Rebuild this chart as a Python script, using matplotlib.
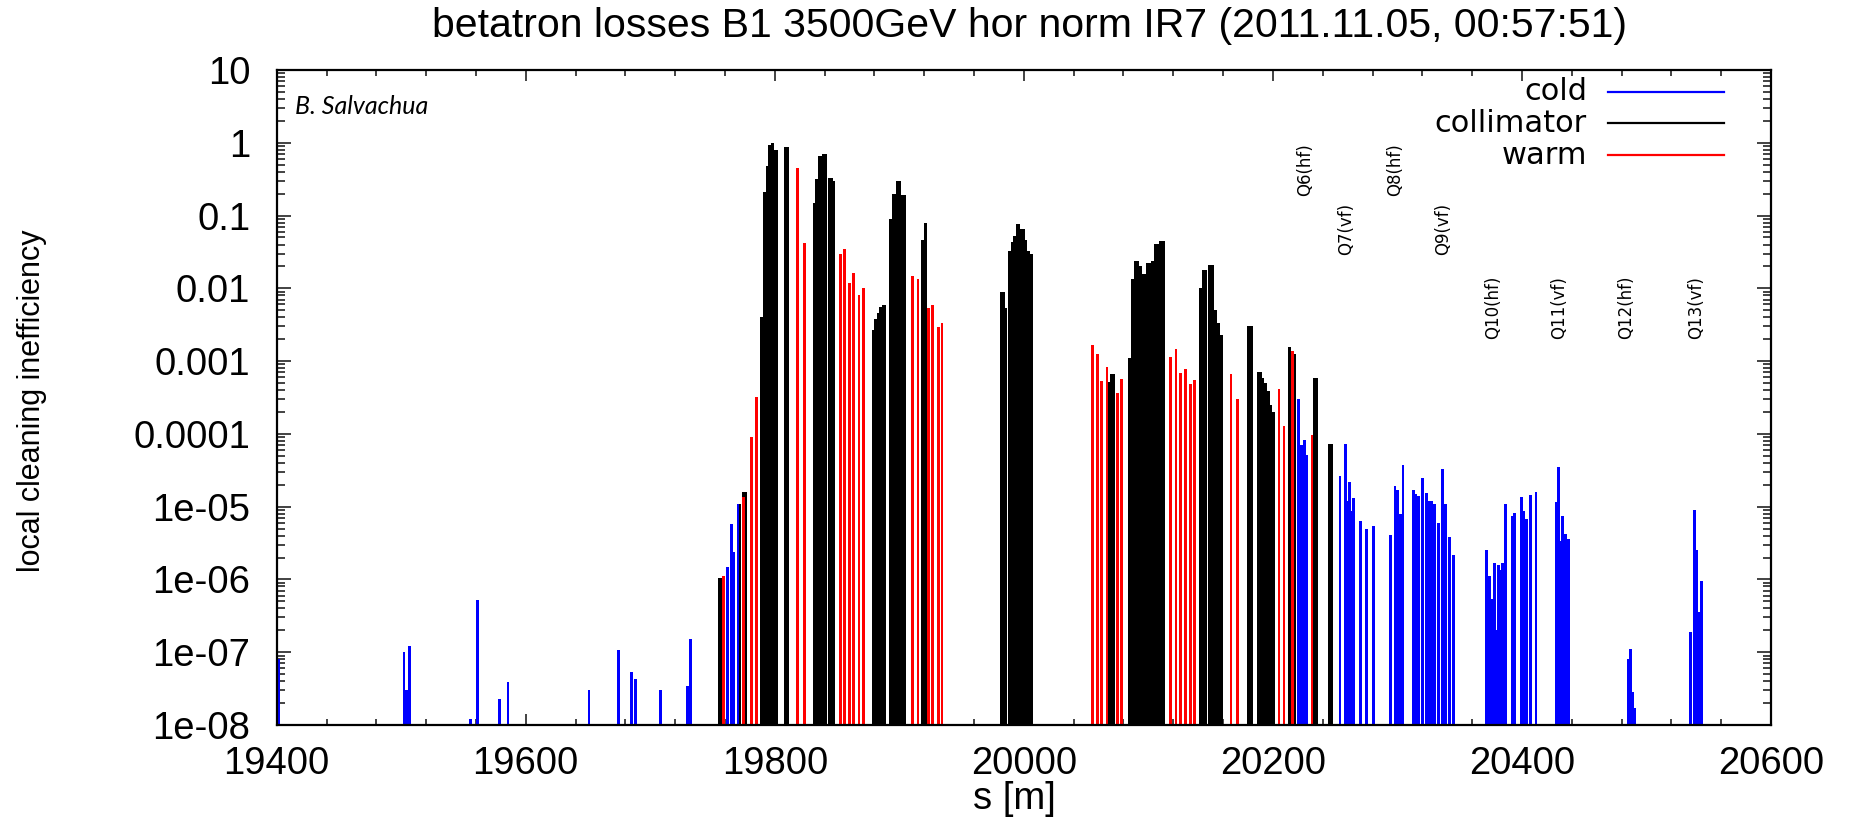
import matplotlib
matplotlib.use("Agg")
import matplotlib.pyplot as plt
import numpy as np
from matplotlib import font_manager
from matplotlib.lines import Line2D
from matplotlib.ticker import FixedLocator, LogLocator, MultipleLocator, NullFormatter

# ---------------- data ----------------
title = "betatron losses B1 3500GeV hor norm IR7 (2011.11.05, 00:57:51)"
x_label = "s [m]"
y_label = "local cleaning inefficiency"
author = "B. Salvachua"
series_names = ["cold", "collimator", "warm"]

x_ticks = [19400, 19600, 19800, 20000, 20200, 20400, 20600]
y_ticks = [10, 1, 0.1, 0.01, 0.001, 0.0001, 1e-5, 1e-6, 1e-7, 1e-8]
y_tick_labels = ["10", "1", "0.1", "0.01", "0.001", "0.0001",
                 "1e-05", "1e-06", "1e-07", "1e-08"]

cold_s = [19401.3, 19502.2, 19504.4, 19506.5, 19555.8, 19561.0, 19579.2, 19585.8,
          19650.8, 19674.5, 19685.1, 19688.4, 19708.5, 19730.1, 19732.1,
          19762.2, 19765.5, 19767.0, 19770.8,
          20220.7, 20223.0, 20225.3, 20227.4,
          20253.9, 20258.3, 20259.8, 20261.5, 20263.0, 20264.7, 20270.3, 20275.3, 20280.8,
          20294.7, 20298.0, 20300.1, 20302.2, 20304.4, 20312.7, 20314.9, 20317.1, 20320.2,
          20323.3, 20325.6, 20327.5, 20329.7, 20333.2, 20336.4, 20338.6, 20341.8, 20345.0,
          20371.7, 20373.9, 20376.6, 20378.2, 20379.8, 20381.4, 20382.5, 20384.6, 20386.7,
          20392.0, 20394.2, 20399.4, 20401.3, 20403.9, 20407.1, 20411.3,
          20427.4, 20429.6, 20430.9, 20432.8, 20435.0, 20437.3,
          20485.1, 20487.2, 20488.6, 20490.4,
          20535.2, 20538.4, 20540.6, 20542.2, 20544.0]
cold_v = [8e-8, 1.0e-7, 3e-8, 1.23e-7, 1.2e-8, 5.2e-7, 2.3e-8, 3.9e-8,
          3e-8, 1.07e-7, 5.3e-8, 4.3e-8, 3e-8, 3.4e-8, 1.5e-7,
          1.5e-6, 5.7e-6, 2.4e-6, 1.1e-5,
          3e-4, 7.1e-5, 8.2e-5, 5.1e-5,
          2.6e-5, 7.3e-5, 1.2e-5, 2.2e-5, 8.7e-6, 1.3e-5, 6.3e-6, 5.0e-6, 5.4e-6,
          4.1e-6, 1.9e-5, 1.7e-5, 8e-6, 3.7e-5, 1.7e-5, 1.5e-5, 1.4e-5, 2.5e-5,
          1.55e-5, 1.2e-5, 1.2e-5, 1.1e-5, 5.9e-6, 3.3e-5, 1.1e-5, 3.8e-6, 2.2e-6,
          2.5e-6, 1.1e-6, 5.4e-7, 1.7e-6, 2e-7, 1.6e-6, 1.35e-6, 1.7e-6, 1.1e-5,
          7.4e-6, 8.1e-6, 1.35e-5, 8.7e-6, 6.8e-6, 1.45e-5, 1.6e-5,
          1.15e-5, 3.5e-5, 3.4e-6, 7.4e-6, 4.2e-6, 3.6e-6,
          8.1e-8, 1.1e-7, 2.8e-8, 1.7e-8,
          1.9e-7, 8.9e-6, 2.5e-6, 3.6e-7, 9.5e-7]

coll_s = [19755.5, 19757.1, 19772.1, 19774.7, 19776.3,
          19789.6, 19792.0, 19794.1, 19796.0, 19798.1, 19800.2, 19801.8, 19808.3, 19810.1,
          19831.4, 19833.7, 19835.6, 19837.2, 19839.0, 19841.0, 19844.2, 19845.8, 19847.6,
          19878.9, 19880.9, 19882.9, 19885.1, 19887.0, 19888.6,
          19892.8, 19895.0, 19896.9, 19898.8, 19900.4, 19902.3, 19904.2,
          19918.5, 19921.1,
          19982.0, 19983.6, 19985.5, 19988.6, 19990.4, 19992.4, 19994.6, 19996.2,
          19998.1, 19999.5, 20001.6, 20003.9, 20006.0,
          20068.3, 20070.4, 20072.3,
          20085.0, 20087.2, 20089.4, 20091.6, 20093.6, 20095.6, 20097.2, 20099.0,
          20101.2, 20103.3, 20105.5, 20107.6, 20109.7, 20111.9,
          20141.8, 20144.0, 20145.9, 20149.1, 20151.3, 20153.8, 20156.5, 20158.7,
          20180.2, 20182.6, 20188.4, 20190.0, 20192.0, 20194.1, 20196.2, 20198.4, 20200.5,
          20213.5, 20217.8, 20233.4, 20235.2, 20245.2, 20246.8]
coll_v = [1.05e-6, 1.05e-6, 1.1e-5, 1.6e-5, 1.6e-5,
          0.004, 0.21, 0.48, 0.94, 1.0, 0.79, 0.79, 0.88, 0.88,
          0.15, 0.32, 0.66, 0.66, 0.70, 0.70, 0.33, 0.33, 0.30,
          0.0027, 0.0038, 0.0046, 0.0055, 0.0059, 0.0059,
          0.089, 0.20, 0.20, 0.30, 0.30, 0.19, 0.19,
          0.046, 0.079,
          0.0089, 0.0089, 0.0054, 0.033, 0.043, 0.053, 0.076, 0.076,
          0.065, 0.065, 0.046, 0.033, 0.030,
          0.00052, 0.00066, 0.00066,
          0.0011, 0.0134, 0.0236, 0.0236, 0.020, 0.0158, 0.0158, 0.022,
          0.022, 0.024, 0.041, 0.041, 0.045, 0.045,
          0.0100, 0.018, 0.018, 0.021, 0.021, 0.0051, 0.0033, 0.0023,
          0.003, 0.003, 0.00071, 0.00071, 0.00059, 0.0005, 0.00039, 0.00025, 0.00020,
          0.00155, 0.00126, 0.00059, 0.00059, 7.3e-5, 7.3e-5]

warm_s = [19759.0, 19774.8, 19781.2, 19785.5, 19818.5, 19823.9,
          19852.7, 19855.9, 19860.2, 19863.4, 19867.7, 19871.2,
          19910.7, 19915.0, 19923.7, 19926.9, 19931.2, 19934.2,
          20055.0, 20059.1, 20062.5, 20066.7, 20075.3, 20078.6,
          20117.9, 20122.2, 20125.7, 20129.7, 20134.0, 20137.2,
          20166.3, 20171.6, 20204.9, 20208.9, 20215.7, 20231.3]
warm_v = [1.1e-6, 1.35e-5, 9.1e-5, 3.2e-4, 0.45, 0.042,
          0.030, 0.035, 0.012, 0.016, 0.0081, 0.0102,
          0.0148, 0.0134, 0.0054, 0.0059, 0.0029, 0.0033,
          0.00166, 0.00126, 0.00054, 0.00083, 0.00037, 0.00056,
          0.00114, 0.00146, 0.00068, 0.00077, 0.00048, 0.00055,
          0.00066, 0.0003, 0.00042, 0.00013, 0.00137, 9.8e-5]

quad_names = ["Q6(hf)", "Q7(vf)", "Q8(hf)", "Q9(vf)", "Q10(hf)", "Q11(vf)", "Q12(hf)", "Q13(vf)"]
quad_s = [20226, 20259, 20298, 20337, 20377, 20430, 20484, 20540]
quad_y = [0.185, 0.029, 0.185, 0.029, 0.002, 0.002, 0.002, 0.002]

# ---------------- style ----------------
names = {f.name for f in font_manager.fontManager.ttflist}
SANS = "Liberation Sans" if "Liberation Sans" in names else "DejaVu Sans"
NARROW = "Liberation Sans Narrow" if "Liberation Sans Narrow" in names else SANS
ITAL = "Lato" if "Lato" in names else SANS
WIDE = "DejaVu Sans"

W, H = 1852, 819
fig = plt.figure(figsize=(W / 100, H / 100), dpi=100)
L, R, T, B = 276.7, 1771.0, 70.0, 725.0
ax = fig.add_axes([L / W, 1 - B / H, (R - L) / W, (B - T) / H])

ymin = 1e-8
ax.set_yscale("log")
ax.set_xlim(19400, 20600)
ax.set_ylim(ymin, 10)

colors = {"cold": "#0000ff", "collimator": "#000000", "warm": "#ff0000"}
data = {"cold": (cold_s, cold_v), "collimator": (coll_s, coll_v), "warm": (warm_s, warm_v)}
bw = 2.2
for name in series_names:
    s, v = data[name]
    v = np.asarray(v)
    ax.bar(s, v - ymin, bottom=ymin, width=bw, color=colors[name], linewidth=0, zorder=2)

# ticks
ax.xaxis.set_major_locator(FixedLocator(x_ticks))
ax.xaxis.set_minor_locator(MultipleLocator(40))
ax.set_xticklabels([str(t) for t in x_ticks])
ax.yaxis.set_major_locator(FixedLocator(y_ticks))
ax.set_yticklabels(y_tick_labels)
ax.yaxis.set_minor_locator(LogLocator(base=10, subs=np.arange(2, 10), numticks=20))
ax.yaxis.set_minor_formatter(NullFormatter())

ax.tick_params(which="both", direction="in", top=True, right=True, color="#222222", width=1.2)
ax.tick_params(axis="x", which="major", length=8, pad=15)
ax.tick_params(axis="x", which="minor", length=4)
ax.tick_params(axis="y", which="major", length=10, pad=19)
ax.tick_params(axis="y", which="minor", length=6)
for lab in ax.get_xticklabels() + ax.get_yticklabels():
    lab.set_fontfamily(SANS)
    lab.set_fontsize(27.5)
for sp in ax.spines.values():
    sp.set_linewidth(1.6)

# title & axis labels
fig.text(1029 / W, 1 - 26 / H, title, ha="center", va="center", fontsize=29.5, family=SANS)
fig.text(1014 / W, 1 - 809 / H, x_label, ha="center", va="baseline", fontsize=27.5, family=SANS)
fig.text(32 / W, 1 - 401 / H, y_label, ha="center", va="center", rotation=90,
         fontsize=22, family=NARROW)

# author note
ax.text(0.0125, 0.945, author, transform=ax.transAxes, ha="left", va="center",
        fontsize=18, style="italic", family=ITAL)

# legend (gnuplot style: label right-aligned, line sample to the right)
leg_y = [92, 123, 155]
for name, yy in zip(series_names, leg_y):
    fig.text(1587 / W, 1 - yy / H, name, ha="right", va="center", fontsize=22, family=WIDE)
    fig.add_artist(Line2D([1608 / W, 1724 / W], [1 - yy / H, 1 - yy / H],
                          transform=fig.transFigure, color=colors[name], lw=1.6))

# quadrupole labels
for qn, qs, qy in zip(quad_names, quad_s, quad_y):
    ax.text(qs, qy, qn, rotation=90, ha="center", va="bottom", fontsize=12, family=WIDE)

fig.savefig("out.png", dpi=100)
